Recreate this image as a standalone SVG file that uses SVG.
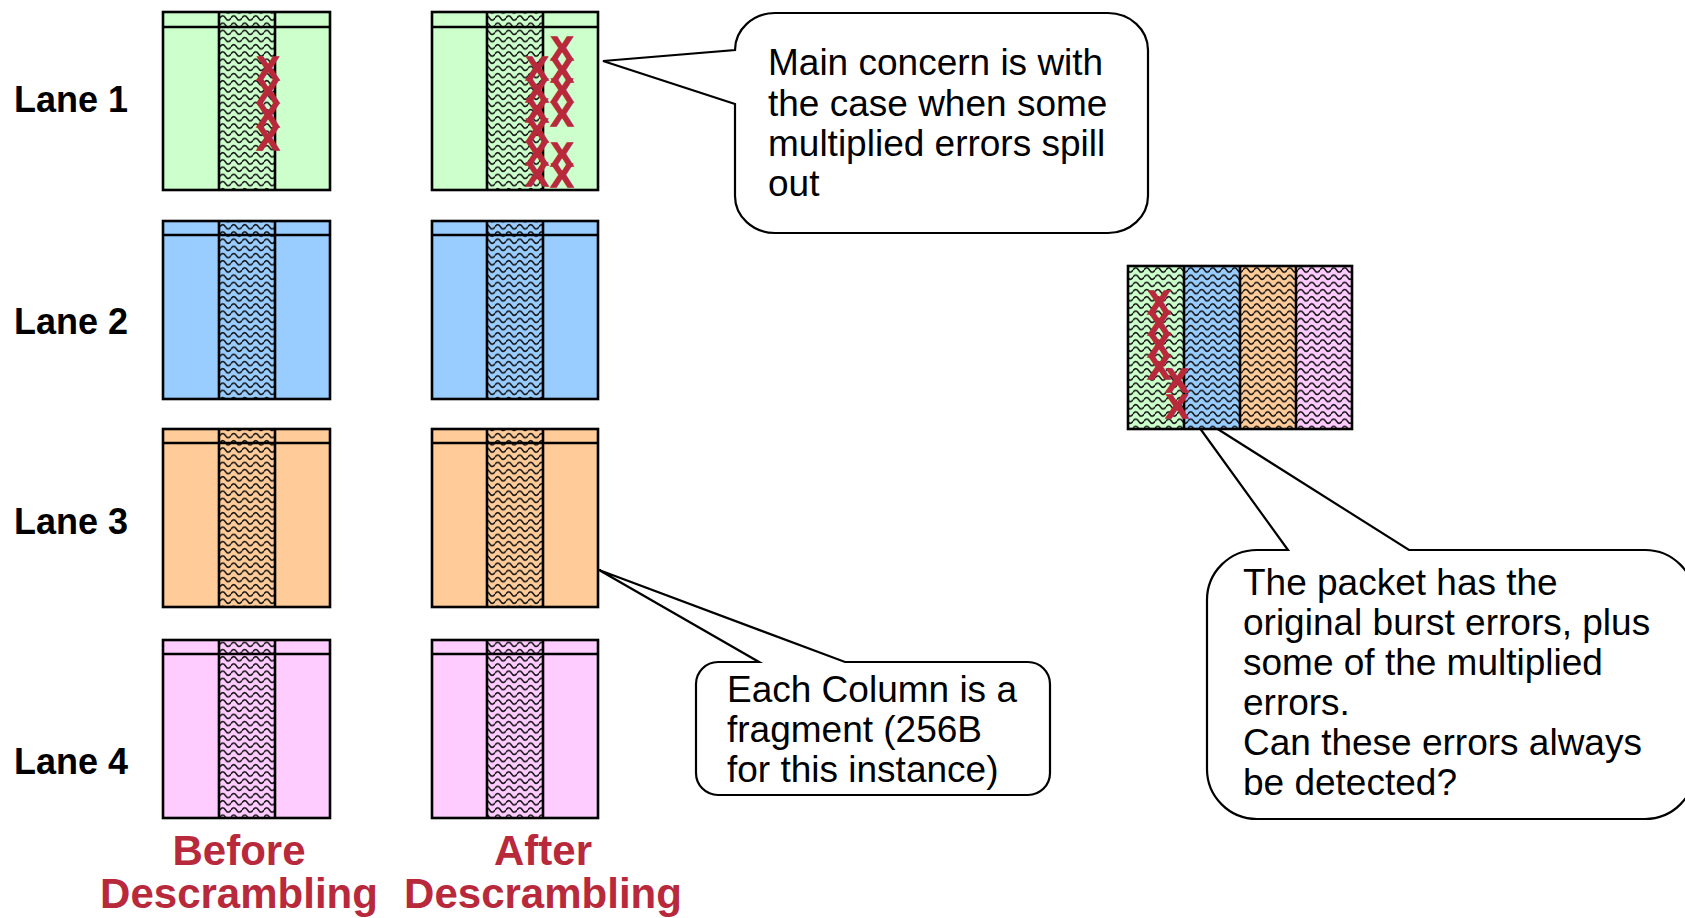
<svg xmlns="http://www.w3.org/2000/svg" width="1685" height="918" viewBox="0 0 1685 918">
<defs>
<pattern id="wave" patternUnits="userSpaceOnUse" width="11" height="7.2">
<path d="M0,3.6 C1.6,0.8 3.9,0.8 5.5,3.6 S9.4,6.4 11,3.6" fill="none" stroke="#111" stroke-width="1.45"/>
</pattern>
<style>
.ln{stroke:#000;stroke-width:2.6;fill:none}
.g{fill:#CCFFCC}.b{fill:#99CCFF}.o{fill:#FFCC99}.p{fill:#FFCCFF}
.hat{fill:url(#wave)}
.lbl{font-family:"Liberation Sans",Arial,sans-serif;font-weight:bold;font-size:36px;fill:#000}
.cap{font-family:"Liberation Sans",Arial,sans-serif;font-weight:bold;font-size:42px;fill:#B8293B;text-anchor:middle}
.txt{font-family:"Liberation Sans",Arial,sans-serif;font-size:37px;fill:#000}
.x{font-family:"Liberation Sans",Arial,sans-serif;font-weight:bold;font-size:34px;fill:#B8293B;stroke:#B8293B;stroke-width:1.4;text-anchor:middle}
.bub{fill:#fff;stroke:#000;stroke-width:2.2}
</style>
</defs>
<rect width="1685" height="918" fill="#fff"/>

<g id="callout-packet">
<path class="bub" d="M1207,600 A50,50 0 0 1 1257,550 H1288 L1186,409 L1409,550 H1645 A50,50 0 0 1 1695,600 V769 A50,50 0 0 1 1645,819 H1257 A50,50 0 0 1 1207,769 Z"/>
<text class="txt" x="1243" y="595">The packet has the</text>
<text class="txt" x="1243" y="635">original burst errors, plus</text>
<text class="txt" x="1243" y="675">some of the multiplied</text>
<text class="txt" x="1243" y="715">errors.</text>
<text class="txt" x="1243" y="755">Can these errors always</text>
<text class="txt" x="1243" y="795">be detected?</text>
</g>

<g id="labels">
<text class="lbl" x="14" y="112">Lane 1</text>
<text class="lbl" x="14" y="334">Lane 2</text>
<text class="lbl" x="14" y="534">Lane 3</text>
<text class="lbl" x="14" y="774">Lane 4</text>
<text class="cap" x="239" y="865">Before</text>
<text class="cap" x="239" y="908">Descrambling</text>
<text class="cap" x="543" y="865">After</text>
<text class="cap" x="543" y="908">Descrambling</text>
</g>

<g id="lane1-before">
<rect class="g" x="163" y="12" width="167" height="178"/>
<rect class="hat" x="219" y="12" width="56" height="178"/>
<path class="ln" d="M163,27 H330 M219,12 V190 M275,12 V190"/>
<rect class="ln" x="163" y="12" width="167" height="178"/>
<text class="x" x="268" y="80">X</text>
<text class="x" x="268" y="103">X</text>
<text class="x" x="268" y="127">X</text>
<text class="x" x="268" y="150">X</text>
</g>
<g id="lane1-after">
<rect class="g" x="432" y="12" width="166" height="178"/>
<rect class="hat" x="487" y="12" width="56" height="178"/>
<path class="ln" d="M432,27 H598 M487,12 V190 M543,12 V190"/>
<rect class="ln" x="432" y="12" width="166" height="178"/>
<text class="x" x="537" y="80">X</text>
<text class="x" x="537" y="102">X</text>
<text class="x" x="537" y="122">X</text>
<text class="x" x="537" y="142">X</text>
<text class="x" x="537" y="165">X</text>
<text class="x" x="537" y="186">X</text>
<text class="x" x="562" y="60">X</text>
<text class="x" x="562" y="82">X</text>
<text class="x" x="562" y="102">X</text>
<text class="x" x="562" y="126">X</text>
<text class="x" x="562" y="166">X</text>
<text class="x" x="562" y="187">X</text>
</g>

<g id="lane2-before">
<rect class="b" x="163" y="221" width="167" height="178"/>
<rect class="hat" x="219" y="221" width="56" height="178"/>
<path class="ln" d="M163,235 H330 M219,221 V399 M275,221 V399"/>
<rect class="ln" x="163" y="221" width="167" height="178"/>
</g>
<g id="lane2-after">
<rect class="b" x="432" y="221" width="166" height="178"/>
<rect class="hat" x="487" y="221" width="56" height="178"/>
<path class="ln" d="M432,235 H598 M487,221 V399 M543,221 V399"/>
<rect class="ln" x="432" y="221" width="166" height="178"/>
</g>

<g id="lane3-before">
<rect class="o" x="163" y="429" width="167" height="178"/>
<rect class="hat" x="219" y="429" width="56" height="178"/>
<path class="ln" d="M163,443 H330 M219,429 V607 M275,429 V607"/>
<rect class="ln" x="163" y="429" width="167" height="178"/>
</g>
<g id="lane3-after">
<rect class="o" x="432" y="429" width="166" height="178"/>
<rect class="hat" x="487" y="429" width="56" height="178"/>
<path class="ln" d="M432,443 H598 M487,429 V607 M543,429 V607"/>
<rect class="ln" x="432" y="429" width="166" height="178"/>
</g>

<g id="lane4-before">
<rect class="p" x="163" y="640" width="167" height="178"/>
<rect class="hat" x="219" y="640" width="56" height="178"/>
<path class="ln" d="M163,654 H330 M219,640 V818 M275,640 V818"/>
<rect class="ln" x="163" y="640" width="167" height="178"/>
</g>
<g id="lane4-after">
<rect class="p" x="432" y="640" width="166" height="178"/>
<rect class="hat" x="487" y="640" width="56" height="178"/>
<path class="ln" d="M432,654 H598 M487,640 V818 M543,640 V818"/>
<rect class="ln" x="432" y="640" width="166" height="178"/>
</g>

<g id="packet">
<rect class="g" x="1128" y="266" width="56" height="163"/>
<rect class="b" x="1184" y="266" width="56" height="163"/>
<rect class="o" x="1240" y="266" width="56" height="163"/>
<rect class="p" x="1296" y="266" width="56" height="163"/>
<rect class="hat" x="1128" y="266" width="224" height="163"/>
<path class="ln" d="M1184,266 V429 M1240,266 V429 M1296,266 V429"/>
<rect class="ln" x="1128" y="266" width="224" height="163"/>
<text class="x" x="1159" y="314">X</text>
<text class="x" x="1159" y="335">X</text>
<text class="x" x="1159" y="357">X</text>
<text class="x" x="1159" y="379">X</text>
<text class="x" x="1177" y="392">X</text>
<text class="x" x="1177" y="418">X</text>
</g>

<g id="callout-concern">
<path class="bub" d="M735,50 A40,37 0 0 1 775,13 H1108 A40,37 0 0 1 1148,50 V196 A40,37 0 0 1 1108,233 H775 A40,37 0 0 1 735,196 V104 L603,61 Z"/>
<text class="txt" x="768" y="75">Main concern is with</text>
<text class="txt" x="768" y="116">the case when some</text>
<text class="txt" x="768" y="156">multiplied errors spill</text>
<text class="txt" x="768" y="196">out</text>
</g>

<g id="callout-column">
<path class="bub" d="M696,684 A22,22 0 0 1 718,662 H759 L599,570 L845,662 H1028 A22,22 0 0 1 1050,684 V773 A22,22 0 0 1 1028,795 H718 A22,22 0 0 1 696,773 Z"/>
<text class="txt" x="727" y="702">Each Column is a</text>
<text class="txt" x="727" y="742">fragment (256B</text>
<text class="txt" x="727" y="782">for this instance)</text>
</g>
</svg>
